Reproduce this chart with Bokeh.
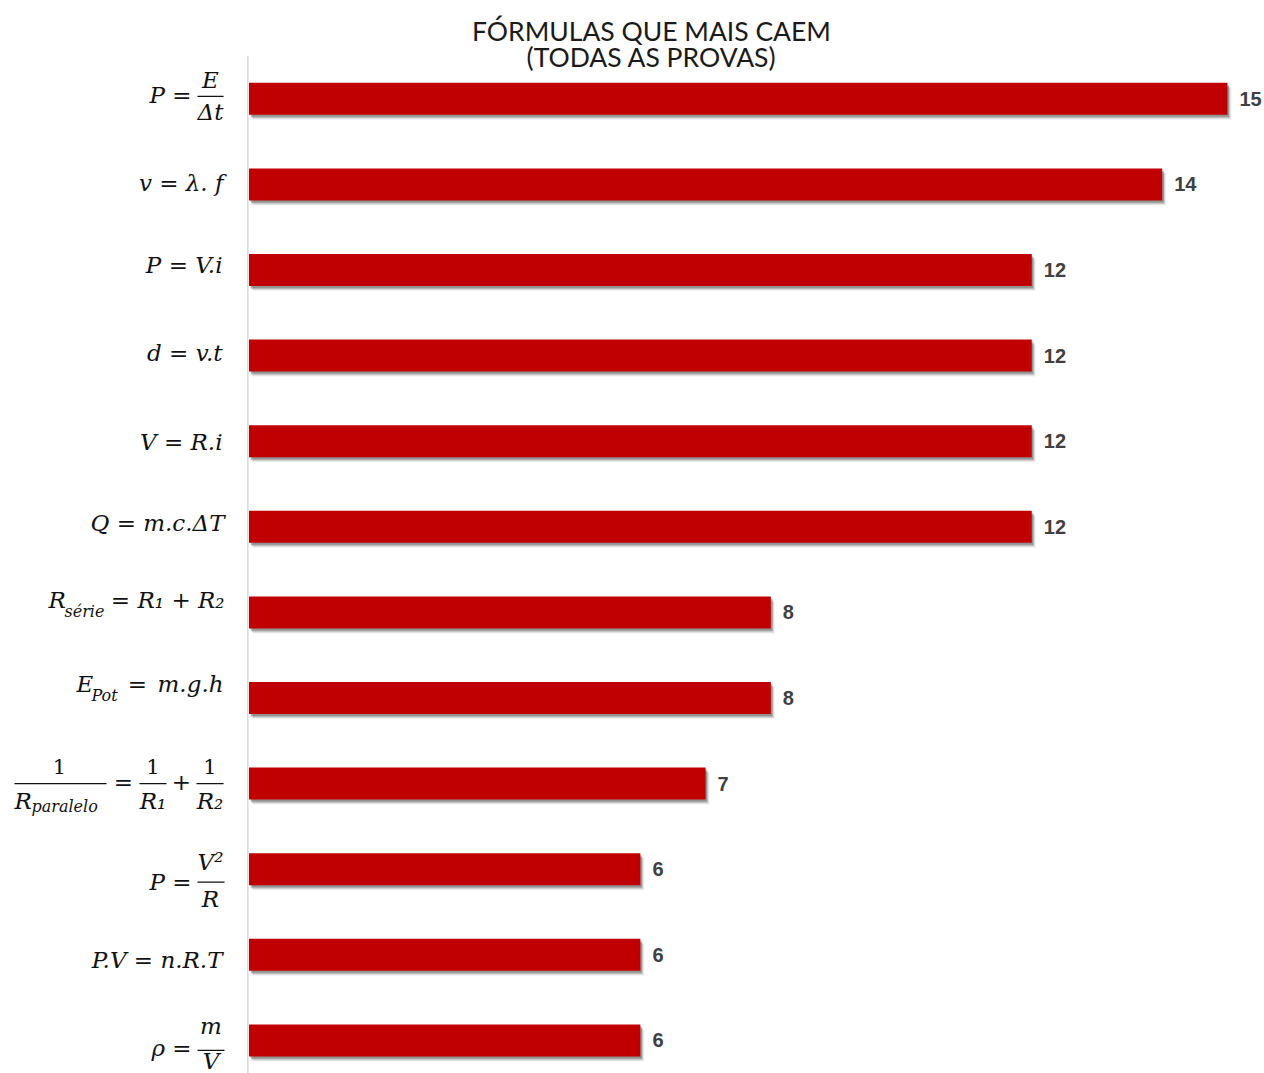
from bokeh.plotting import figure
from bokeh.models import Range1d
from bokeh.core.properties import value
from bokeh.embed import file_html
from bokeh.resources import INLINE

# ---- data -------------------------------------------------------------
title_lines = ["FÓRMULAS QUE MAIS CAEM", "(TODAS AS PROVAS)"]
formulas = [
    "P = E/Δt", "v = λ.f", "P = V.i", "d = v.t", "V = R.i", "Q = m.c.ΔT",
    "R_série = R1 + R2", "E_Pot = m.g.h", "1/R_paralelo = 1/R1 + 1/R2",
    "P = V²/R", "P.V = n.R.T", "ρ = m/V",
]
counts = [15, 14, 12, 12, 12, 12, 8, 8, 7, 6, 6, 6]

# ---- canvas geometry ----------------------------------------------------
W, H = 1264, 1073
X0, KX = 248.5, 65.23   # pixel of the zero line, pixels per unit of count
Y0, KY = 98.3, 85.6     # pixel of the first row centre, pixels per row

BAR_COLOR = "#C00000"
BAR_H = 32 / KY

p = figure(width=W, height=H, output_backend="svg", toolbar_location=None,
           x_range=Range1d(-X0 / KX, (W - X0) / KX),
           y_range=Range1d((H - Y0) / KY, -Y0 / KY),
           x_axis_location=None, y_axis_location=None,
           min_border=0, title=None)
p.outline_line_color = None
p.grid.visible = False
p.background_fill_color = "white"
p.border_fill_color = "white"

rows = list(range(len(formulas)))

def px_x(px):
    return (px - X0) / KX

# axis line
p.segment(x0=[px_x(247.3)], y0=[-0.5], x1=[px_x(247.3)], y1=[(H - Y0) / KY + 1],
          line_color="#d9d9d9", line_width=1.5)

# soft drop shadow under each bar
for dx, dy, a in [(4, 5, 0.06), (3, 4, 0.10), (2, 3, 0.16), (1.5, 2, 0.18)]:
    p.hbar(y=[r + dy / KY for r in rows], left=dx / KX,
           right=[c + dx / KX for c in counts], height=BAR_H,
           fill_color="black", fill_alpha=a, line_color=None)

p.hbar(y=rows, left=0, right=counts, height=BAR_H,
       fill_color=BAR_COLOR, line_color=None)

# value labels at the bar ends
p.text(x=counts, y=rows, text=[str(c) for c in counts], x_offset=12,
       text_baseline="middle", text_align="left",
       text_font=value("Liberation Sans"), text_font_style="bold",
       text_font_size="20px", text_color="#404040")

# title (two centred lines)
p.text(x=[px_x(651)] * 2, y=[(30 - Y0) / KY, (56.5 - Y0) / KY], text=title_lines,
       text_align="center", text_baseline="middle",
       text_font=value("Lato"), text_font_size="26.5px", text_color="#1a1a1a")

# ---- formula labels ------------------------------------------------------
# piece: (text, x pixel, anchor, baseline offset from row centre in px, style)
layout = {
    "P = E/Δt": dict(pieces=[("P =", 191, "right", 4.5, "it"),
                             ("E", 210, "center", -11, "it"),
                             ("Δt", 210, "center", 21.5, "it")],
                     bars=[(197, 223, -2.5)]),
    "v = λ.f": dict(pieces=[("v = λ. f", 223, "right", 7, "it")], bars=[]),
    "P = V.i": dict(pieces=[("P = V.i", 222, "right", 3, "it")], bars=[]),
    "d = v.t": dict(pieces=[("d = v.t", 222, "right", 5.5, "it")], bars=[]),
    "V = R.i": dict(pieces=[("V = R.i", 222, "right", 9, "it")], bars=[]),
    "Q = m.c.ΔT": dict(pieces=[("Q = m.c.ΔT", 224, "right", 4, "it")], bars=[]),
    "R_série = R1 + R2": dict(pieces=[("R", 48, "left", -4, "it"),
                                      ("série", 64, "left", 5, "sub"),
                                      ("=", 120, "center", -4, "it"),
                                      ("R₁ + R₂", 224, "right", -4, "it")],
                              bars=[]),
    "E_Pot = m.g.h": dict(pieces=[("E", 76, "left", -6, "it"),
                                  ("Pot", 91, "left", 3.5, "sub"),
                                  ("=", 137, "center", -6, "it"),
                                  ("m.g.h", 223, "right", -6, "it")],
                          bars=[]),
    "1/R_paralelo = 1/R1 + 1/R2": dict(
        pieces=[("1", 59, "center", -10, "up"),
                ("R", 14, "left", 25, "it"),
                ("paralelo", 31, "left", 28, "sub"),
                ("=", 123, "center", 6, "it"),
                ("1", 152.5, "center", -10, "up"),
                ("R₁", 152.5, "center", 25, "it"),
                ("+", 181, "center", 6, "it"),
                ("1", 209.5, "center", -10, "up"),
                ("R₂", 209.5, "center", 25, "it")],
        bars=[(14, 106, 0), (139, 166, 0), (196, 223, 0)]),
    "P = V²/R": dict(pieces=[("P =", 191, "right", 20.5, "it"),
                             ("V²", 210, "center", 1, "it"),
                             ("R", 210, "center", 37.5, "it")],
                     bars=[(197, 224, 13)]),
    "P.V = n.R.T": dict(pieces=[("P.V = n.R.T", 222, "right", 13, "it")], bars=[]),
    "ρ = m/V": dict(pieces=[("ρ =", 191, "right", 15.5, "it"),
                            ("m", 210.5, "center", -6, "it"),
                            ("V", 210.5, "center", 28.5, "it")],
                    bars=[(197, 224, 10)]),
}

SERIF = value("DejaVu Serif")
styles = {
    "it": dict(size=23, font_style="italic"),
    "sub": dict(size=16, font_style="italic"),
    "up": dict(size=21, font_style="normal"),
}
MID = 0.35  # em-box middle above the baseline

groups = {}
fx0, fx1, fy = [], [], []
for r, name in zip(rows, formulas):
    spec = layout[name]
    for txt, xp, anchor, dy, st in spec["pieces"]:
        g = groups.setdefault((st, anchor), dict(x=[], y=[], text=[]))
        g["x"].append(px_x(xp))
        g["y"].append(r + (dy - MID * styles[st]["size"]) / KY)
        g["text"].append(txt)
    for a, b, dy in spec["bars"]:
        fx0.append(px_x(a))
        fx1.append(px_x(b))
        fy.append(r + dy / KY)

for (st, anchor), g in groups.items():
    s = styles[st]
    p.text(x=g["x"], y=g["y"], text=g["text"], text_align=anchor,
           text_baseline="middle", text_color="#111111",
           text_font=SERIF, text_font_style=s["font_style"],
           text_font_size=f"{s['size']}px")

p.segment(x0=fx0, y0=fy, x1=fx1, y1=fy, line_color="#111111", line_width=1.3)

open("out.html", "w").write(file_html(p, INLINE))
